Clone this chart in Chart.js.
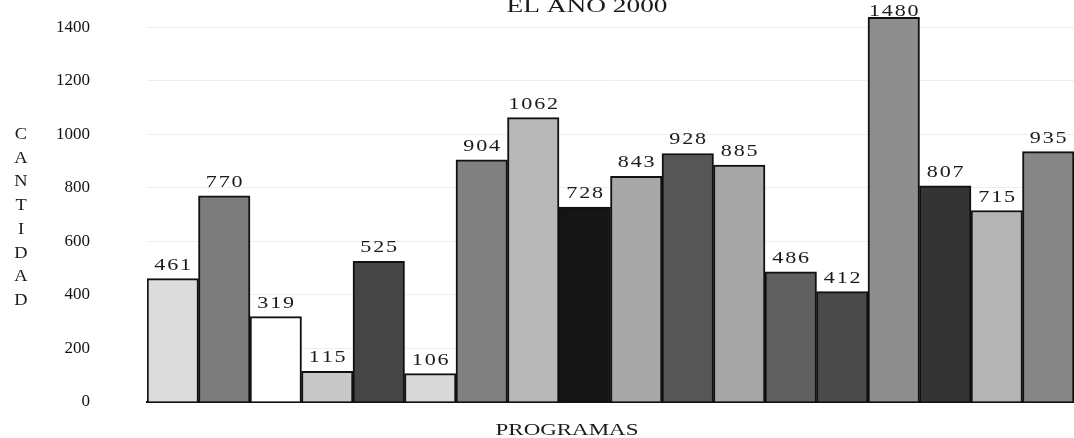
<!DOCTYPE html>
<html>
<head>
<meta charset="utf-8">
<script src="https://cdn.jsdelivr.net/npm/chart.js@4/dist/chart.umd.min.js"></script>
<style>
  body { margin: 0; background: #fff; }
</style>
</head>
<body>
<canvas id="programasChart" width="1074" height="438"></canvas>
<script>
const programas = ['1', '2', '3', '4', '5', '6', '7', '8', '9', '10', '11', '12', '13', '14', '15', '16', '17', '18'];
const cantidades = [461, 770, 319, 115, 525, 106, 904, 1062, 728, 843, 928, 885, 486, 412, 1480, 807, 715, 935];
const tonos = ['#dcdcdc', '#7c7c7c', '#ffffff', '#c8c8c8', '#454545', '#d8d8d8', '#808080', '#b8b8b8', '#151515',
               '#a8a8a8', '#565656', '#a6a6a6', '#606060', '#4a4a4a', '#8e8e8e', '#343434', '#b4b4b4', '#868686'];
const marcasY = [0, 200, 400, 600, 800, 1000, 1200, 1400];
const titulo = 'EL AÑO 2000';
const tituloY = 'CANTIDAD';
const tituloX = 'PROGRAMAS';

const serif = '"Liberation Serif", "DejaVu Serif", serif';

// scanned text looks stretched sideways, so draw it a bit wider
function stretchedText(ctx, text, x, y, size, sx) {
    ctx.save();
    ctx.font = size + 'px ' + serif;
    ctx.translate(x, y);
    ctx.scale(sx, 1);
    ctx.fillText(text, 0, 0);
    ctx.restore();
}

const textos = {
    id: 'textos',
    afterDatasetsDraw(chart) {
        const ctx = chart.ctx;
        const area = chart.chartArea;
        const meta = chart.getDatasetMeta(0);
        ctx.save();
        ctx.fillStyle = '#1a1a1a';
        ctx.textAlign = 'center';
        ctx.textBaseline = 'alphabetic';

        meta.data.forEach((bar, i) => {
            const top = Math.max(bar.y, area.top);
            if (bar.y < area.top) {
                // bar runs past the top of the plot: close it off
                ctx.fillStyle = '#111';
                ctx.fillRect(bar.x - bar.width / 2, area.top - 1, bar.width, 2);
                ctx.fillStyle = '#1a1a1a';
            }
            const base = Math.max(top - 9, 16);
            stretchedText(ctx, String(cantidades[i]).split('').join('\u200A'), bar.x, base, 17, 1.3);
        });

        // title, cut off at the top like the scan
        stretchedText(ctx, titulo, 587, 12, 18, 1.52);

        // vertical axis title, one letter per line
        tituloY.split('').forEach((ch, i) => {
            stretchedText(ctx, ch, 21, 139 + i * 23.7, 16, 1.15);
        });

        stretchedText(ctx, tituloX, 567, 435, 17, 1.35);
        ctx.restore();
    }
};

const ctx = document.getElementById('programasChart').getContext('2d');
new Chart(ctx, {
    type: 'bar',
    data: {
        labels: programas,
        datasets: [{
            data: cantidades,
            backgroundColor: tonos,
            borderColor: '#111',
            borderWidth: 2,
            barPercentage: 1,
            categoryPercentage: 1,
            clip: 0
        }]
    },
    options: {
        responsive: false,
        animation: false,
        devicePixelRatio: 1,
        layout: { padding: { top: 18, left: 0, right: 0, bottom: 0 } },
        plugins: {
            legend: { display: false },
            tooltip: { enabled: false }
        },
        scales: {
            x: {
                grid: { display: false },
                border: { display: true, color: '#111', width: 2 },
                ticks: { display: false },
                afterFit: s => { s.height = 36; }
            },
            y: {
                min: 0,
                max: 1434,
                afterBuildTicks: s => { s.ticks = marcasY.map(v => ({ value: v })); },
                grid: { color: '#eeeeee', drawTicks: false },
                border: { display: false },
                ticks: {
                    padding: 57,
                    color: '#111',
                    font: { family: serif, size: 17 },
                    callback: v => String(v)
                },
                afterFit: s => {
                    s.width = 147;
                    s.paddingTop = 0;
                    s.paddingBottom = 0;
                }
            }
        }
    },
    plugins: [textos]
});
</script>
</body>
</html>
